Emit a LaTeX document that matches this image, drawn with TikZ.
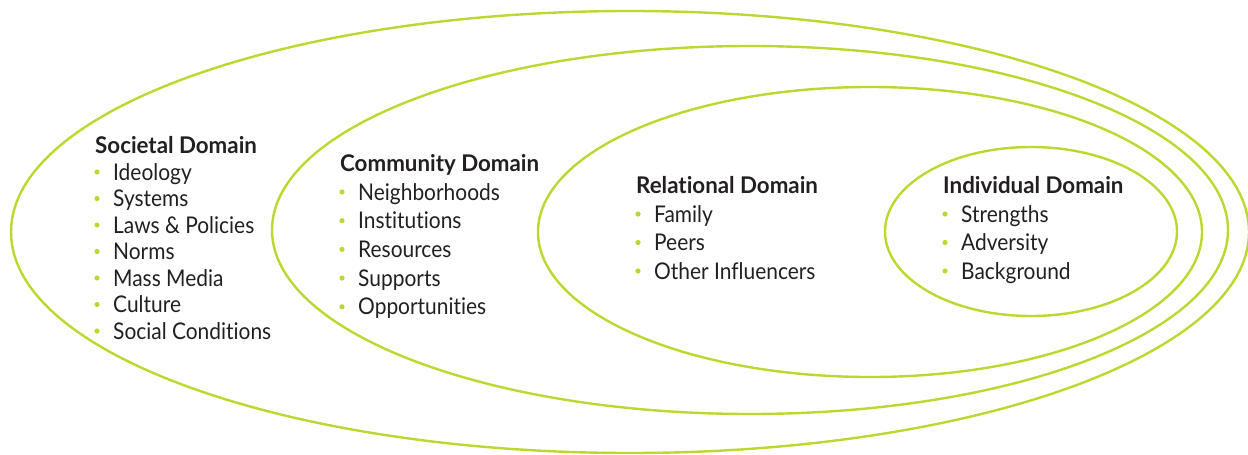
\documentclass[tikz,border=0pt]{standalone}
\usepackage{fontspec}
\setmainfont{Lato}[FakeStretch=0.91, Ligatures=NoCommon, BoldFeatures={FakeStretch=0.97}]
\definecolor{lime}{RGB}{190,214,48}
\definecolor{ink}{RGB}{35,31,32}
\tikzset{
  ring/.style={draw=lime, line width=2.4pt},
  dtitle/.style={anchor=base west, inner sep=0pt, text=ink, font=\fontsize{23}{23}\selectfont\bfseries},
  ditem/.style={anchor=base west, inner sep=0pt, text=ink, font=\fontsize{23}{23}\selectfont},
  dot/.style={fill=lime, draw=none}
}
\newcommand\entry[4]{%
  \node[ditem] (#1) at (#2,#3) {#4};
  \fill[dot] ($(#1.base west)+(-16,-8)$) circle (2.6);
}
\usetikzlibrary{calc}
\begin{document}
\begin{tikzpicture}[x=1pt,y=-1pt]
\useasboundingbox (0,0) rectangle (1248,455);
\coordinate (c1) at (630,232);
\coordinate (c2) at (750,230);
\coordinate (c3) at (870,232);
\coordinate (c4) at (1031,231.5);
\draw[ring] (c1) ellipse [x radius=619, y radius=221];
\draw[ring] (c2) ellipse [x radius=478, y radius=184];
\draw[ring] (c3) ellipse [x radius=332, y radius=145];
\draw[ring] (c4) ellipse [x radius=146, y radius=84.5];

% Societal
\node[dtitle] (soc) at (95,153) {Societal Domain};
\entry{s1}{113}{180}{Ideology}
\entry{s2}{113}{206.5}{Systems}
\entry{s3}{113}{233}{Laws \& Policies}
\entry{s4}{113}{259.5}{Norms}
\entry{s5}{113}{286}{Mass Media}
\entry{s6}{113}{312.5}{Culture}
\entry{s7}{113}{339}{Social Conditions}

% Community
\node[dtitle] (com) at (340,171) {Community Domain};
\entry{m1}{358}{200}{Neighborhoods}
\entry{m2}{358}{228.7}{Institutions}
\entry{m3}{358}{257.4}{Resources}
\entry{m4}{358}{286.1}{Supports}
\entry{m5}{358}{314.8}{Opportunities}

% Relational
\node[dtitle] (rel) at (636,193) {Relational Domain};
\entry{r1}{654}{222}{Family}
\entry{r2}{654}{250.5}{Peers}
\entry{r3}{654}{279}{Other Influencers}

% Individual
\node[dtitle] (ind) at (943,193) {Individual Domain};
\entry{i1}{961}{222}{Strengths}
\entry{i2}{961}{250.5}{Adversity}
\entry{i3}{961}{279}{Background}
\end{tikzpicture}
\end{document}
